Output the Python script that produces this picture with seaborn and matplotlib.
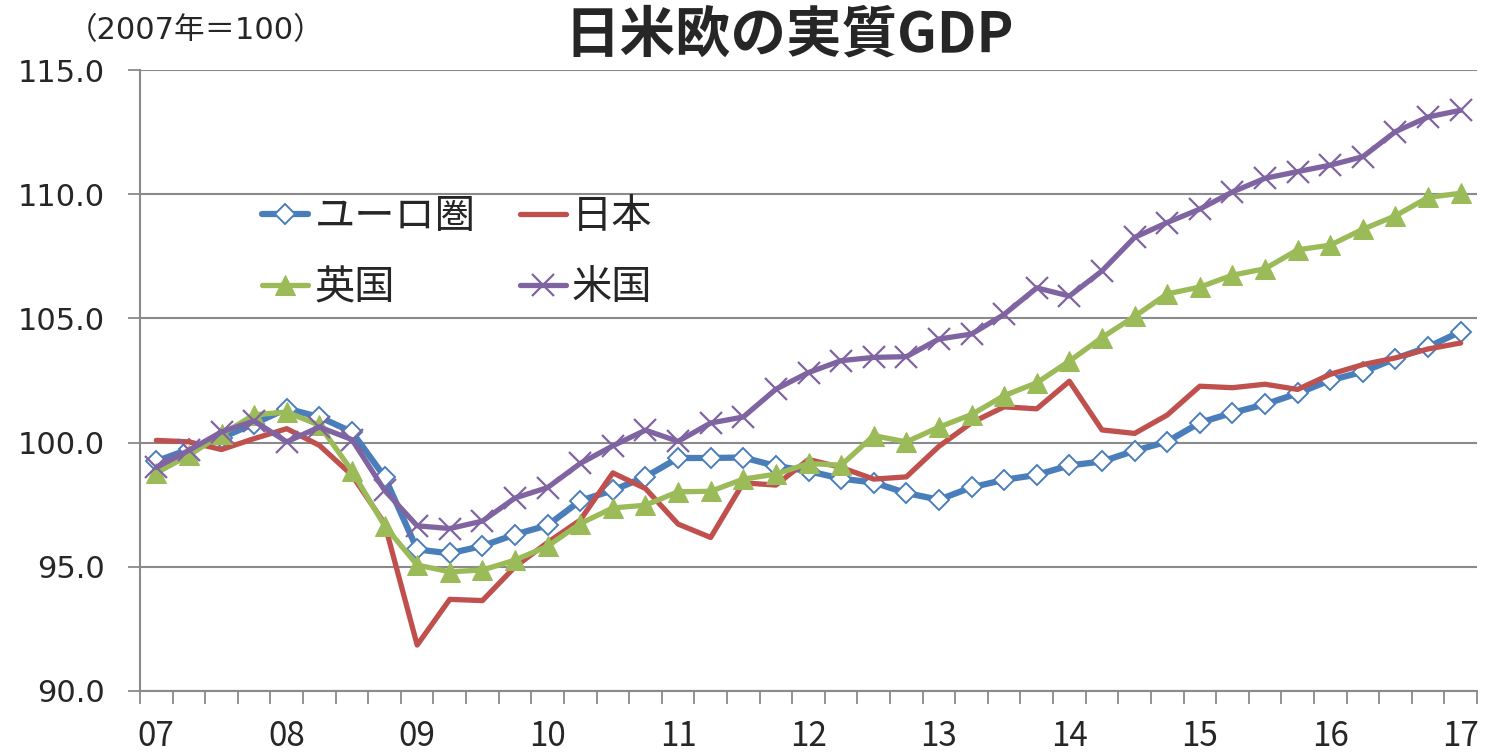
import numpy as np
import pandas as pd
import matplotlib
matplotlib.use("Agg")
import matplotlib.pyplot as plt
import seaborn as sns

# ---- data (2007Q1 .. 2017Q1, index 2007 = 100) ----
quarters = [f"{y:02d}Q{q}" for y in range(7, 17) for q in range(1, 5)] + ["17Q1"]
year_labels = ["07", "08", "09", "10", "11", "12", "13", "14", "15", "16", "17"]

euro = [99.25, 99.73, 100.2, 100.76, 101.37, 101.03, 100.43, 98.62, 95.7, 95.54,
        95.84, 96.3, 96.67, 97.66, 98.08, 98.62, 99.38, 99.38, 99.40, 99.06,
        98.85, 98.55, 98.39, 97.97, 97.70, 98.20, 98.50, 98.70, 99.08, 99.24,
        99.67, 100.04, 100.80, 101.20, 101.54, 101.98, 102.51, 102.85, 103.38, 103.85,
        104.47]
japan = [100.09, 100.03, 99.72, 100.16, 100.56, 99.89, 98.69, 96.74, 91.85, 93.69,
         93.64, 95.0, 95.98, 96.88, 98.78, 98.15, 96.72, 96.18, 98.38, 98.29,
         99.32, 99.0, 98.53, 98.62, 99.85, 100.80, 101.44, 101.36, 102.47, 100.51,
         100.37, 101.11, 102.27, 102.21, 102.35, 102.14, 102.75, 103.14, 103.41, 103.77,
         104.01]
uk = [98.78, 99.49, 100.33, 101.12, 101.23, 100.7, 98.86, 96.65, 95.07, 94.8,
      94.87, 95.27, 95.83, 96.74, 97.37, 97.48, 98.02, 98.04, 98.53, 98.73,
      99.16, 99.09, 100.28, 100.03, 100.62, 101.13, 101.89, 102.41, 103.28, 104.23,
      105.08, 105.99, 106.26, 106.74, 107.0, 107.76, 107.95, 108.59, 109.13, 109.87,
      110.04]
us = [99.0, 99.69, 100.43, 100.87, 100.03, 100.63, 100.12, 98.08, 96.65, 96.54,
      96.84, 97.77, 98.19, 99.16, 99.87, 100.5, 100.05, 100.79, 101.03, 102.15,
      102.82, 103.30, 103.43, 103.46, 104.17, 104.37, 105.16, 106.23, 105.9, 106.91,
      108.26, 108.86, 109.40, 110.09, 110.64, 110.91, 111.17, 111.51, 112.52, 113.11,
      113.38]

series_names = ["ユーロ圏", "日本", "英国", "米国"]
title = "日米欧の実質GDP"
subtitle = "（2007年＝100）"
yticks = [90, 95, 100, 105, 110, 115]

# ---- style ----
sns.set_theme(style="white")
plt.rcParams['font.family'] = ['Noto Sans CJK JP', 'DejaVu Sans']

fig = plt.figure(figsize=(14.86, 7.54), dpi=100)
ax = fig.add_axes([140 / 1486, 1 - 691 / 754, (1477 - 140) / 1486, (691 - 70) / 754])

x = np.arange(len(quarters))
grid_c = "#8a8a8a"

styles = {
    "ユーロ圏": dict(color="#4a7ebb", marker="D", markersize=10, markerfacecolor="white",
                  markeredgecolor="#4a7ebb", markeredgewidth=1.4, linewidth=4.5),
    "日本": dict(color="#c0504d", linewidth=3.8),
    "英国": dict(color="#9bbb59", marker="^", markersize=15, markerfacecolor="#9bbb59",
               markeredgecolor="#9bbb59", linewidth=3.8),
    "米国": dict(color="#8064a2", marker="x", markersize=16, markeredgewidth=1.6,
               markeredgecolor="#8064a2", linewidth=3.8),
}
values = {"ユーロ圏": euro, "日本": japan, "英国": uk, "米国": us}

for name in series_names:
    sns.lineplot(x=x, y=values[name], ax=ax, label=name, **styles[name])

ax.set_xlim(-0.5, len(quarters) - 0.5)
ax.set_ylim(90, 115)

ax.set_yticks(yticks)
ax.set_yticklabels([f"{v:.1f}" for v in yticks], fontfamily="DejaVu Sans", fontsize=22)
ax.yaxis.grid(True, color=grid_c, linewidth=1.5)
ax.xaxis.grid(False)
ax.tick_params(axis="y", which="major", length=9, width=1.3, color=grid_c, direction="out",
               pad=16, left=True)

ax.set_xticks(np.arange(0, len(quarters), 4))
ax.set_xticklabels(year_labels, fontsize=24)
ax.set_xticks(np.arange(-0.5, len(quarters) + 0.5, 1), minor=True)
ax.tick_params(axis="x", which="major", length=0, pad=20, bottom=True)
ax.tick_params(axis="x", which="minor", length=9, width=1.3, color=grid_c, direction="out",
               bottom=True)

for s in ["top", "right"]:
    ax.spines[s].set_visible(False)
for s in ["left", "bottom"]:
    ax.spines[s].set_color(grid_c)
    ax.spines[s].set_linewidth(1.5)
ax.set_xlabel("")
ax.set_ylabel("")

handles, labels = ax.get_legend_handles_labels()
order = [0, 2, 1, 3]
ax.legend([handles[i] for i in order], [labels[i] for i in order], ncol=2, frameon=False,
          fontsize=29, loc="upper left", bbox_to_anchor=(262 / 1486, 1 - 196 / 754),
          bbox_transform=fig.transFigure, handlelength=1.15, handletextpad=0.15,
          columnspacing=1.1, labelspacing=0.75, borderaxespad=0, borderpad=0)

fig.text(789 / 1486, 1 - 35 / 754, title, fontsize=40, fontweight="bold", ha="center", va="center")
fig.text(196 / 1486, 1 - 31 / 754, subtitle, fontsize=22, ha="center", va="center",
         family=['DejaVu Sans', 'Noto Sans CJK JP'])

fig.savefig("out.png", dpi=100)
